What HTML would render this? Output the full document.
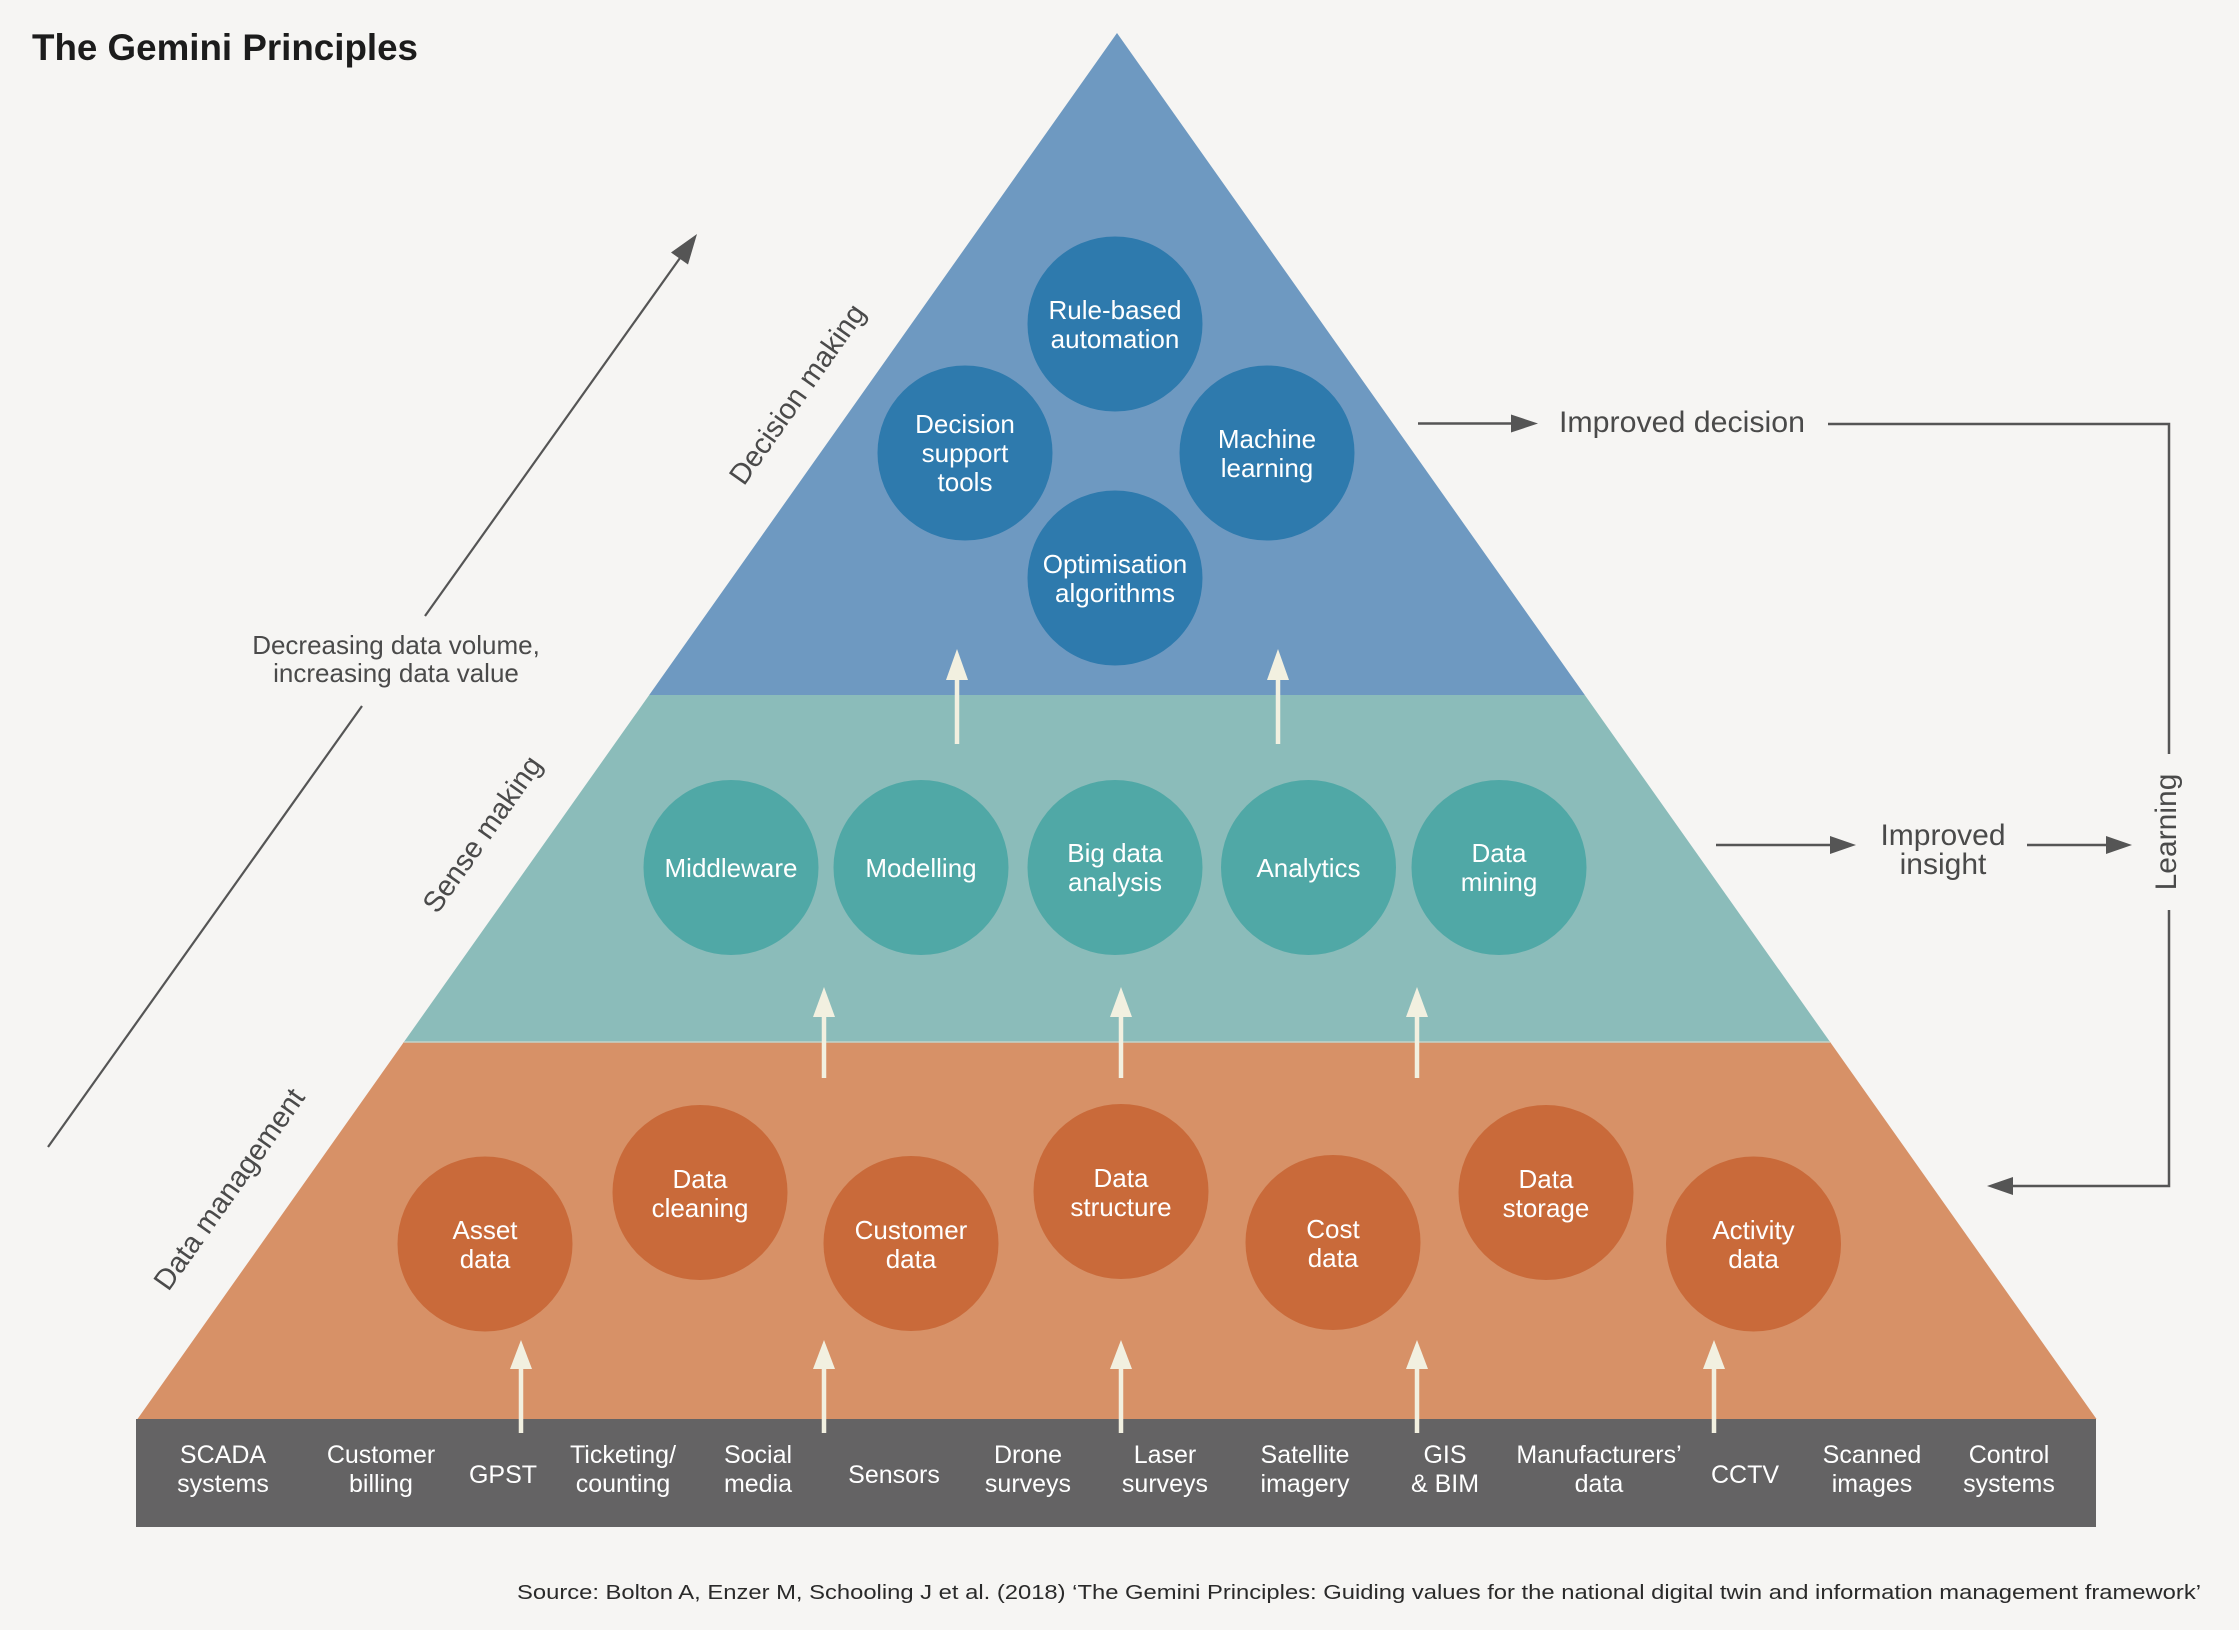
<!DOCTYPE html>
<html>
<head>
<meta charset="utf-8">
<style>
html,body{margin:0;padding:0;background:#f6f5f3;}
svg{display:block;}
</style>
</head>
<body>
<svg width="2239" height="1630" viewBox="0 0 2239 1630" xmlns="http://www.w3.org/2000/svg" font-family="'Liberation Sans', sans-serif">
<rect x="0" y="0" width="2239" height="1630" fill="#f6f5f3"/>

<!-- Title -->
<text x="32" y="60" font-size="37" font-weight="bold" fill="#1c1c1c" textLength="386" lengthAdjust="spacingAndGlyphs">The Gemini Principles</text>

<!-- Pyramid layers -->
<polygon points="1117,33 1584.8,695 649.2,695" fill="#6e99c1"/>
<polygon points="649.2,695 1584.8,695 1830.1,1042 403.9,1042" fill="#8bbcba"/>
<polygon points="403.9,1042 1830.1,1042 2096.5,1419 137.5,1419" fill="#d79167"/>
<line x1="404" y1="1042" x2="1830" y2="1042" stroke="#c3d3c9" stroke-width="1.5"/>
<rect x="136" y="1419" width="1960" height="108" fill="#646364"/>

<!-- Blue circles -->
<g fill="#2e7aad">
<circle cx="1115" cy="324" r="87.5"/>
<circle cx="965" cy="453" r="87.5"/>
<circle cx="1267" cy="453" r="87.5"/>
<circle cx="1115" cy="578" r="87.5"/>
</g>
<!-- Teal circles -->
<g fill="#50a8a6">
<circle cx="731" cy="867.5" r="87.5"/>
<circle cx="921" cy="867.5" r="87.5"/>
<circle cx="1115" cy="867.5" r="87.5"/>
<circle cx="1308.5" cy="867.5" r="87.5"/>
<circle cx="1499" cy="867.5" r="87.5"/>
</g>
<!-- Orange circles -->
<g fill="#c96a3a">
<circle cx="485" cy="1244" r="87.5"/>
<circle cx="700" cy="1192.5" r="87.5"/>
<circle cx="911" cy="1243.5" r="87.5"/>
<circle cx="1121" cy="1191.5" r="87.5"/>
<circle cx="1333" cy="1242.5" r="87.5"/>
<circle cx="1546" cy="1192.5" r="87.5"/>
<circle cx="1753.5" cy="1244" r="87.5"/>
</g>

<!-- Circle labels -->
<g fill="#ffffff" font-size="26" text-anchor="middle">
<text x="1115" y="319">Rule-based</text>
<text x="1115" y="348">automation</text>
<text x="965" y="433">Decision</text>
<text x="965" y="462">support</text>
<text x="965" y="491">tools</text>
<text x="1267" y="448">Machine</text>
<text x="1267" y="477">learning</text>
<text x="1115" y="573">Optimisation</text>
<text x="1115" y="602">algorithms</text>

<text x="731" y="877">Middleware</text>
<text x="921" y="877">Modelling</text>
<text x="1115" y="862">Big data</text>
<text x="1115" y="891">analysis</text>
<text x="1308.5" y="877">Analytics</text>
<text x="1499" y="862">Data</text>
<text x="1499" y="891">mining</text>

<text x="485" y="1239">Asset</text>
<text x="485" y="1268">data</text>
<text x="700" y="1188">Data</text>
<text x="700" y="1217">cleaning</text>
<text x="911" y="1239">Customer</text>
<text x="911" y="1268">data</text>
<text x="1121" y="1187">Data</text>
<text x="1121" y="1216">structure</text>
<text x="1333" y="1238">Cost</text>
<text x="1333" y="1267">data</text>
<text x="1546" y="1188">Data</text>
<text x="1546" y="1217">storage</text>
<text x="1753.5" y="1239">Activity</text>
<text x="1753.5" y="1268">data</text>
</g>

<!-- Cream arrows -->
<g fill="#f2f0e0">
<!-- teal -> blue -->
<rect x="954.75" y="677" width="4.5" height="67"/><polygon points="957,649 946,680 968,680"/>
<rect x="1275.75" y="677" width="4.5" height="67"/><polygon points="1278,649 1267,680 1289,680"/>
<!-- orange -> teal -->
<rect x="821.75" y="1014" width="4.5" height="64"/><polygon points="824,987 813,1017 835,1017"/>
<rect x="1118.75" y="1014" width="4.5" height="64"/><polygon points="1121,987 1110,1017 1132,1017"/>
<rect x="1414.75" y="1014" width="4.5" height="64"/><polygon points="1417,987 1406,1017 1428,1017"/>
<!-- bar -> orange -->
<rect x="518.75" y="1366" width="4.5" height="67"/><polygon points="521,1340 510,1369 532,1369"/>
<rect x="821.75" y="1366" width="4.5" height="67"/><polygon points="824,1340 813,1369 835,1369"/>
<rect x="1118.75" y="1366" width="4.5" height="67"/><polygon points="1121,1340 1110,1369 1132,1369"/>
<rect x="1414.75" y="1366" width="4.5" height="67"/><polygon points="1417,1340 1406,1369 1428,1369"/>
<rect x="1711.75" y="1366" width="4.5" height="67"/><polygon points="1714,1340 1703,1369 1725,1369"/>
</g>

<!-- Bar labels -->
<g fill="#ffffff" font-size="25" text-anchor="middle">
<text x="223" y="1463">SCADA</text><text x="223" y="1492">systems</text>
<text x="381" y="1463">Customer</text><text x="381" y="1492">billing</text>
<text x="503" y="1483">GPST</text>
<text x="623" y="1463">Ticketing/</text><text x="623" y="1492">counting</text>
<text x="758" y="1463">Social</text><text x="758" y="1492">media</text>
<text x="894" y="1483">Sensors</text>
<text x="1028" y="1463">Drone</text><text x="1028" y="1492">surveys</text>
<text x="1165" y="1463">Laser</text><text x="1165" y="1492">surveys</text>
<text x="1305" y="1463">Satellite</text><text x="1305" y="1492">imagery</text>
<text x="1445" y="1463">GIS</text><text x="1445" y="1492">&amp; BIM</text>
<text x="1599" y="1463">Manufacturers’</text><text x="1599" y="1492">data</text>
<text x="1745" y="1483">CCTV</text>
<text x="1872" y="1463">Scanned</text><text x="1872" y="1492">images</text>
<text x="2009" y="1463">Control</text><text x="2009" y="1492">systems</text>
</g>

<!-- Layer labels (rotated) -->
<g fill="#4a4a4a" font-size="29" text-anchor="middle">
<text transform="translate(797,394) rotate(-54.8)" x="0" y="10">Decision making</text>
<text transform="translate(482,834) rotate(-54.8)" x="0" y="10">Sense making</text>
<text transform="translate(229,1189) rotate(-54.8)" x="0" y="10">Data management</text>
</g>

<!-- Left diagonal arrow -->
<g stroke="#555555" stroke-width="2.2" fill="none">
<line x1="48" y1="1147" x2="362" y2="706"/>
<line x1="425" y1="616" x2="680" y2="258"/>
</g>
<polygon points="697,234 688,264.5 671,252.5" fill="#555555"/>
<g fill="#4a4a4a" font-size="26" text-anchor="middle">
<text x="396" y="654">Decreasing data volume,</text>
<text x="396" y="682">increasing data value</text>
</g>

<!-- Right side -->
<g stroke="#555555" stroke-width="2.5" fill="none">
<line x1="1418" y1="423.5" x2="1512" y2="423.5"/>
<path d="M1828 424 H2169 V754"/>
<path d="M2169 910 V1186 H2012"/>
<line x1="1716" y1="845" x2="1831" y2="845"/>
<line x1="2027" y1="845" x2="2107" y2="845"/>
</g>
<g fill="#555555">
<polygon points="1538,423.5 1511,414.5 1511,432.5"/>
<polygon points="1856,845 1830,836 1830,854"/>
<polygon points="2132,845 2106,836 2106,854"/>
<polygon points="1987,1186 2013,1177 2013,1195"/>
</g>
<g fill="#4a4a4a" font-size="30">
<text x="1559" y="432" textLength="246" lengthAdjust="spacingAndGlyphs">Improved decision</text>
<text x="1943" y="845" text-anchor="middle">Improved</text>
<text x="1943" y="874" text-anchor="middle">insight</text>
<text transform="translate(2176,832) rotate(-90)" x="0" y="0" text-anchor="middle">Learning</text>
</g>

<!-- Source -->
<text x="517" y="1599" font-size="20" fill="#2a2a2a" textLength="1684" lengthAdjust="spacingAndGlyphs">Source: Bolton A, Enzer M, Schooling J et al. (2018) ‘The Gemini Principles: Guiding values for the national digital twin and information management framework’</text>
</svg>
</body>
</html>
